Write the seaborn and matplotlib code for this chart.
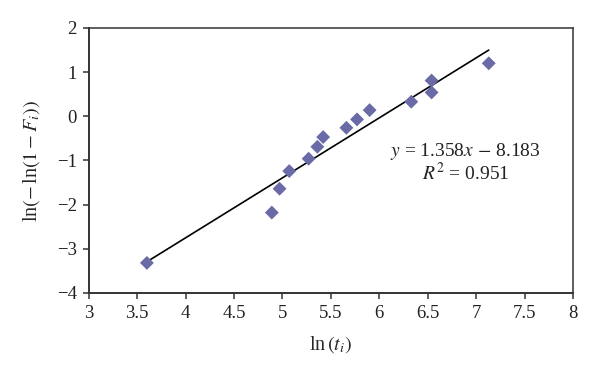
import numpy as np
import pandas as pd
import seaborn as sns
from matplotlib import pyplot as plt

# values
ln_t = [3.60, 4.89, 4.97, 5.07, 5.27, 5.36, 5.42, 5.66, 5.77, 5.90, 6.33, 6.54, 6.54, 7.13]
ln_ln_f = [-3.32, -2.18, -1.64, -1.24, -0.96, -0.69, -0.47, -0.26, -0.07, 0.14, 0.33, 0.81, 0.54, 1.20]
slope = 1.358
intercept = -8.183
r_squared = 0.951

x_ticks = [3, 3.5, 4, 4.5, 5, 5.5, 6, 6.5, 7, 7.5, 8]
y_ticks = [-4, -3, -2, -1, 0, 1, 2]

sns.set_style('white')
plt.rcParams['font.family'] = ['Liberation Serif', 'DejaVu Serif']
plt.rcParams['mathtext.fontset'] = 'stix'
plt.rcParams['text.color'] = '#222222'

df = pd.DataFrame({'x': ln_t, 'y': ln_ln_f})
trend = pd.DataFrame({'x': [min(ln_t), max(ln_t)]})
trend['y'] = slope * trend['x'] + intercept

fig = plt.figure(figsize=(6, 3.78), dpi=100)
ax = fig.add_axes([0.148, 0.225, 0.807, 0.701])

sns.lineplot(data=trend, x='x', y='y', ax=ax, color='black', linewidth=1.2)
sns.scatterplot(data=df, x='x', y='y', ax=ax, marker='D', s=50,
                color='#6a6aa6', edgecolor='none', zorder=3)

ax.set_xlim(3, 8)
ax.set_ylim(-4, 2)
ax.set_xticks(x_ticks)
ax.set_xticklabels(['%g' % t for t in x_ticks])
ax.set_yticks(y_ticks)
ax.set_yticklabels([('\u2212%d' % -t) if t < 0 else '%d' % t for t in y_ticks])
ax.tick_params(axis='both', direction='out', length=4.5, width=1.1, color='#333333',
               labelcolor='#222222', labelsize=13.5, bottom=True, left=True,
               top=False, right=False, pad=4)

for side in ['left', 'bottom']:
    ax.spines[side].set_linewidth(1.4)
    ax.spines[side].set_color('#333333')
for side in ['top', 'right']:
    ax.spines[side].set_linewidth(1.1)
    ax.spines[side].set_color('#333333')

ax.set_xlabel(r'ln$\,(t_i)$', fontsize=14.5, labelpad=9)
ax.set_ylabel(r'ln$(-\,$ln$(1 - F_i))$', fontsize=14.5, labelpad=11)

ax.text(6.89, -0.80, r'$y$ = 1.358$x$ $-$ 8.183', fontsize=14, ha='center', va='center')
ax.text(6.89, -1.29, r'$R^2$ = %.3f' % r_squared, fontsize=14, ha='center', va='center')

plt.savefig('out.png', dpi=100)
